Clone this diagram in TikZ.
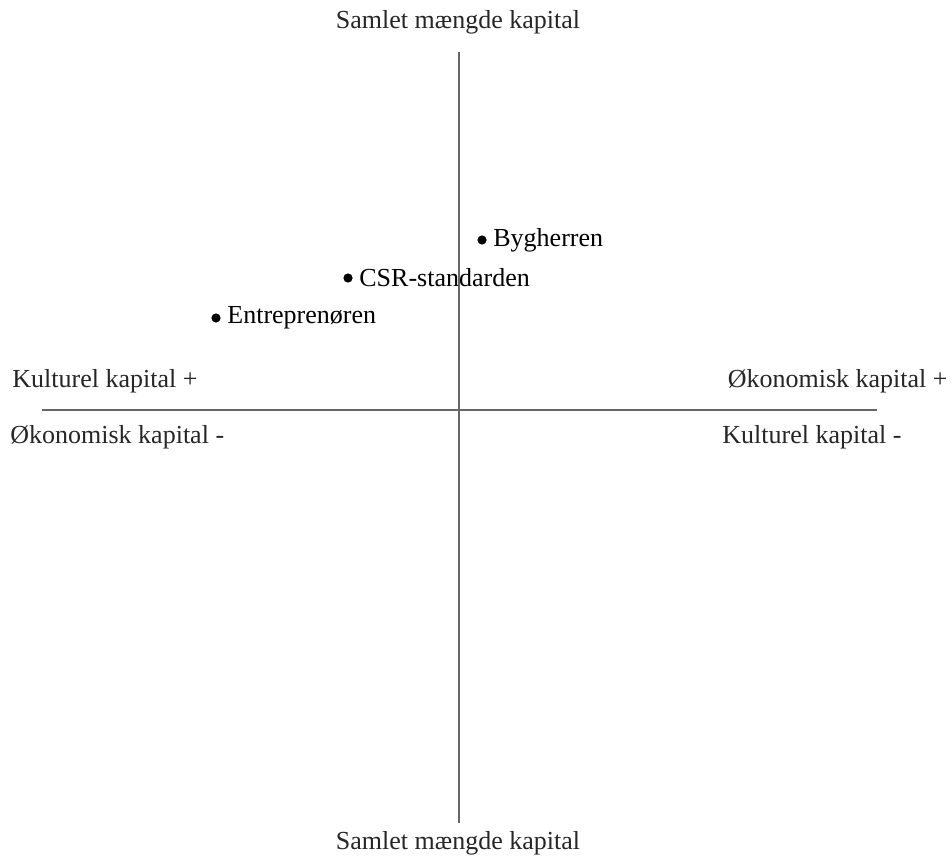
\documentclass[tikz,border=0pt]{standalone}
\usepackage{fontspec}
\setmainfont{Liberation Serif}
\usepackage{tikz}
\usetikzlibrary{positioning}

\begin{document}
\begin{tikzpicture}[
  x=0.5pt, y=-0.5pt,
  axis/.style={draw=black!60, line width=1pt},
  lab/.style={font=\fontsize{13}{15}\selectfont, text=black!85, inner sep=0pt},
  dot/.style={circle, fill=black, inner sep=0pt, minimum size=4.6pt}
]
\useasboundingbox (0,0) rectangle (952,861);
% axes
\coordinate (top) at (459,52);
\coordinate (bot) at (459,823);
\coordinate (lft) at (42,410);
\coordinate (rgt) at (877,410);
\draw[axis] (top) -- (bot);
\draw[axis] (lft) -- (rgt);
% axis texts
\node[lab] (ytop) at (458,22) {Samlet mængde kapital};
\node[lab] (ybot) at (458,843) {Samlet mængde kapital};
\node[lab, anchor=west] (kulp) at (12,381) {Kulturel kapital +};
\node[lab, anchor=west] (okom) at (10,437) {Økonomisk kapital -};
\node[lab, anchor=east] (okop) at (948,381) {Økonomisk kapital +};
\node[lab, anchor=west] (kulm) at (722,437) {Kulturel kapital -};
% actors
\foreach \n/\x/\y/\t in {byg/482/240/Bygherren,csr/348/278/CSR-standarden,ent/216/318/Entreprenøren} {
  \node[dot] (\n) at (\x,\y) {};
  \node[lab, text=black, right=3pt of \n] (\n-l) {\t};
}
\end{tikzpicture}
\end{document}
